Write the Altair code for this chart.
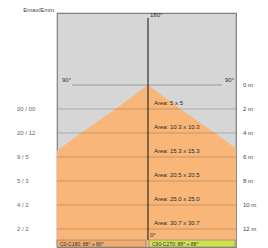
import altair as alt
import pandas as pd

distances = [2, 4, 6, 8, 10, 12]
area_sizes = [5.0, 10.3, 15.3, 20.5, 25.0, 30.7]
area_texts = ["Area: 5 x 5", "Area: 10.3 x 10.3", "Area: 15.3 x 15.3",
              "Area: 20.5 x 20.5", "Area: 25.0 x 25.0", "Area: 30.7 x 30.7"]
emax_emin = ["00 / 00", "20 / 12", "9 / 5", "5 / 3", "4 / 2", "2 / 2"]
dist_labels = ["2 m", "4 m", "6 m", "8 m", "10 m", "12 m"]
box_labels = ["C0-C180: 88° + 80°", "C90-C270: 88° + 88°"]
box_colors = ["#f4aa66", "#d2e24c"]

W, H = 179, 234
FONT = "Liberation Sans"

# cone outline from apex through each measured area
cone_d = [0] + distances + [13.5]
cone_hw = [0] + [a / 2 for a in area_sizes] + [area_sizes[-1] / 2 * 13.5 / 12]
cone = pd.DataFrame({"d": cone_d, "lo": [-h for h in cone_hw], "hi": cone_hw})

rows = pd.DataFrame({"d": distances, "area": area_texts, "ee": emax_emin, "dl": dist_labels,
                     "ad": [d - 0.5 for d in distances]})

xs = alt.Scale(domain=[-7.0, 6.77], nice=False, zero=False)
ys = alt.Scale(domain=[-6, 13.5], nice=False, zero=False, reverse=True)
X = alt.X("lo:Q", scale=xs, axis=None)
Y = alt.Y("d:Q", scale=ys, axis=None)

area = alt.Chart(cone).mark_area(orient="horizontal", color="#f8b678", clip=True).encode(
    y=Y, x=X, x2="hi:Q")

grid = alt.Chart(rows).mark_rule(color="#3a2a1a", opacity=0.25, strokeWidth=1).encode(y=Y)

zero_line = alt.Chart(pd.DataFrame({"d": [0]})).mark_rule(color="#999999", strokeWidth=1).encode(
    y=Y, x=alt.value(15), x2=alt.value(165))

vline = alt.Chart(pd.DataFrame({"lo": [0]})).mark_rule(color="#111111", strokeWidth=1).encode(
    x=X, y=alt.value(5), y2=alt.value(227))

area_txt = alt.Chart(rows).mark_text(align="left", baseline="middle", fontSize=6, font=FONT,
                                     color="#2a2a2a", dx=6).encode(
    y=alt.Y("ad:Q", scale=ys, axis=None), x=alt.value(91), text="area:N")

left_txt = alt.Chart(rows).mark_text(align="left", baseline="middle", fontSize=6, font=FONT,
                                     color="#666666").encode(
    y=Y, x=alt.value(-40), text="ee:N")

right_txt = alt.Chart(pd.DataFrame({"d": [0] + distances, "dl": ["0 m"] + dist_labels})).mark_text(
    align="left", baseline="middle", fontSize=6, font=FONT, color="#444444").encode(
    y=Y, x=alt.value(186), text="dl:N")

ann = pd.DataFrame({"t": ["Emax/Emin", "90°", "90°", "180°", "0°"],
                    "px": [-3, 5, 168, 93, 93], "py": [-3, 67, 67, 2, 222],
                    "al": ["right", "left", "left", "left", "left"]})
ann_l = alt.Chart(ann[ann.al == "right"]).mark_text(align="right", baseline="middle", fontSize=6,
                                                   font=FONT, color="#444444").encode(
    x=alt.X("px:Q", scale=None), y=alt.Y("py:Q", scale=None), text="t:N")
ann_r = alt.Chart(ann[ann.al == "left"]).mark_text(align="left", baseline="middle", fontSize=6,
                                                  font=FONT, color="#333333").encode(
    x=alt.X("px:Q", scale=None), y=alt.Y("py:Q", scale=None), text="t:N")

boxes = pd.DataFrame({"t": box_labels, "c": box_colors, "x0": [0, 92], "x1": [89, 178]})
box_rect = alt.Chart(boxes).mark_rect(stroke="#8a8a8a", strokeWidth=0.8).encode(
    x=alt.X("x0:Q", scale=None), x2="x1:Q", y=alt.value(227), y2=alt.value(234),
    fill=alt.Color("c:N", scale=None))
box_txt = alt.Chart(boxes).mark_text(align="left", baseline="middle", fontSize=5, font=FONT,
                                     color="#333333", dx=3).encode(
    x=alt.X("x0:Q", scale=None), y=alt.value(230.5), text="t:N")

chart = alt.layer(area, grid, zero_line, vline, area_txt, left_txt, right_txt, ann_l, ann_r,
                  box_rect, box_txt).properties(
    width=W, height=H, autosize=alt.AutoSizeParams(type="none"),
    padding={"left": 49, "top": 5, "right": 24, "bottom": 1},
    background="#ffffff"
).configure_view(fill="#d6d6d6", stroke="#7f7f7f", strokeWidth=1.2)

chart.save("out.html", embed_options={"renderer": "svg", "actions": False})
